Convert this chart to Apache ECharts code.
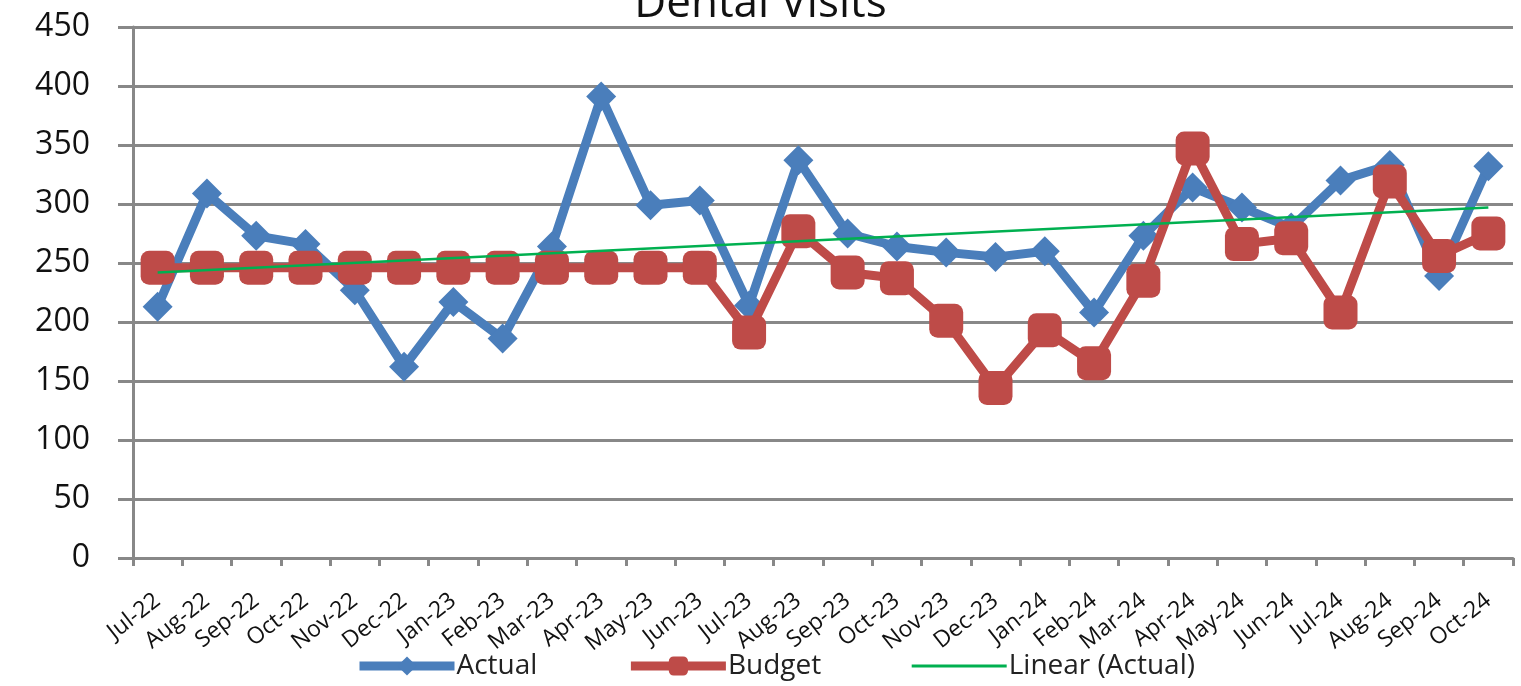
<!DOCTYPE html>
<html>
<head>
<meta charset="utf-8">
<title>Dental Visits</title>
<script src="https://cdn.jsdelivr.net/npm/echarts@6/dist/echarts.min.js"></script>
<style>
  html, body { margin: 0; padding: 0; background: #fff; }
  #chart { width: 1521px; height: 686px; }
</style>
</head>
<body>
<div id="chart"></div>
<script>
var months = ['Jul-22', 'Aug-22', 'Sep-22', 'Oct-22', 'Nov-22', 'Dec-22', 'Jan-23', 'Feb-23', 'Mar-23', 'Apr-23',
    'May-23', 'Jun-23', 'Jul-23', 'Aug-23', 'Sep-23', 'Oct-23', 'Nov-23', 'Dec-23', 'Jan-24', 'Feb-24',
    'Mar-24', 'Apr-24', 'May-24', 'Jun-24', 'Jul-24', 'Aug-24', 'Sep-24', 'Oct-24'];

var actual = [213, 309, 273, 266, 227, 162, 217, 186, 264, 391,
    299, 303, 214, 337, 275, 264, 259, 255, 260, 208,
    273, 314, 297, 280, 320, 333, 239, 332];

var budget = [246, 246, 246, 246, 246, 246, 246, 246, 246, 246,
    246, 246, 191, 277, 242, 237, 201, 144, 193, 165,
    235, 347, 266, 271, 208, 319, 256, 275];

// trend line end points
var trendStart = 242;
var trendEnd = 297;

var trend = months.map(function (m, i) {
    if (i === 0) return trendStart;
    if (i === months.length - 1) return trendEnd;
    return null;
});

var font = "'Open Sans', 'DejaVu Sans', sans-serif";

var myChart = echarts.init(document.getElementById('chart'));

var option = {
    animation: false,
    textStyle: { fontFamily: font },
    title: {
        text: 'Dental Visits',
        left: 'center',
        top: -23,
        textStyle: { fontFamily: font, fontSize: 44, fontWeight: 'normal', color: '#111' }
    },
    legend: {
        bottom: 1,
        left: 350,
        itemWidth: 95,
        itemHeight: 24,
        itemGap: 89,
        lineStyle: { width: 9 },
        textStyle: { fontSize: 28, color: '#222', padding: [0, 0, 0, -3] },
        data: [
            { name: 'Actual' },
            { name: 'Budget' },
            // trend line has no marker in the legend
            { name: 'Linear (Actual)', lineStyle: { width: 3 }, itemStyle: { opacity: 0 } }
        ]
    },
    grid: {
        left: 133,
        right: 8,
        top: 27,
        bottom: 128
    },
    xAxis: {
        type: 'category',
        data: months,
        boundaryGap: true,
        axisLine: { lineStyle: { color: '#888', width: 3 } },
        axisTick: { show: true, length: 8, lineStyle: { color: '#888', width: 3 } },
        axisLabel: {
            rotate: 38,
            fontSize: 23,
            color: '#111',
            interval: 0,
            margin: 40
        }
    },
    yAxis: {
        type: 'value',
        min: 0,
        max: 450,
        interval: 50,
        axisLine: { show: true, lineStyle: { color: '#888', width: 3 } },
        axisTick: { show: true, length: 15, lineStyle: { color: '#888', width: 3 } },
        axisLabel: { fontSize: 32, color: '#111', margin: 43 },
        splitLine: { lineStyle: { color: '#888', width: 3 } }
    },
    series: [
        {
            name: 'Actual',
            type: 'line',
            data: actual,
            symbol: 'diamond',
            symbolSize: 30,
            color: '#4A7EBB',
            lineStyle: { color: '#4A7EBB', width: 9 },
            itemStyle: { color: '#4A7EBB' },
            z: 2
        },
        {
            name: 'Budget',
            type: 'line',
            data: budget,
            symbol: 'roundRect',
            symbolSize: 34,
            color: '#BE4B48',
            lineStyle: { color: '#BE4B48', width: 9 },
            itemStyle: { color: '#BE4B48' },
            z: 3
        },
        {
            name: 'Linear (Actual)',
            type: 'line',
            data: trend,
            connectNulls: true,
            symbol: 'none',
            color: '#00B050',
            lineStyle: { color: '#00B050', width: 2.5 },
            z: 4
        }
    ]
};

myChart.setOption(option, true);
</script>
</body>
</html>
